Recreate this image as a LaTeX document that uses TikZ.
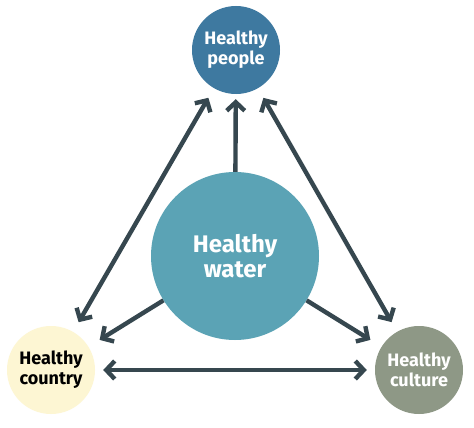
\documentclass[tikz,border=0pt]{standalone}
\usepackage{fontspec}
\setmainfont{Fira Sans}
\usetikzlibrary{arrows.meta}
\definecolor{cpeople}{HTML}{3E79A0}
\definecolor{cwater}{HTML}{5BA3B5}
\definecolor{ccountry}{HTML}{FDF6D3}
\definecolor{cculture}{HTML}{8E9886}
\definecolor{carrow}{HTML}{36474F}
\tikzset{
  circ/.style={circle, inner sep=0pt, align=center, font=\bfseries\fontsize{18}{20}\selectfont},
  conn/.style={draw=carrow, line width=4.4pt, arrows={-Straight Barb[length=8.5pt,width=18pt]}},
  twoway/.style={conn, arrows={Straight Barb[length=8.5pt,width=18pt]-Straight Barb[length=8.5pt,width=18pt]}}
}
\begin{document}
\begin{tikzpicture}[x=1pt,y=-1pt]
\useasboundingbox (0,0) rectangle (474,428);
\fill[white] (0,0) rectangle (474,428);
\node[circ, fill=cpeople, text=white, minimum size=88pt] (people) at (236,50) {Healthy\\people};
\node[circ, fill=cwater, text=white, minimum size=168pt, font=\bfseries\fontsize{24}{25}\selectfont] (water) at (235,256) {Healthy\\water};
\node[circ, fill=ccountry, text=black, minimum size=88pt] (country) at (51,370) {Healthy\\country};
\node[circ, fill=cculture, text=white, minimum size=88pt] (culture) at (419,370) {Healthy\\culture};
\draw[conn, shorten >=5pt] (water) -- (people);
\draw[conn, shorten >=13pt] (water) -- (country);
\draw[conn, shorten >=13pt] (water) -- (culture);
\draw[twoway, shorten >=11pt, shorten <=11pt] (people) -- (country);
\draw[twoway, shorten >=11pt, shorten <=11pt] (people) -- (culture);
\draw[twoway, shorten >=8pt, shorten <=8pt] (country) -- (culture);
\end{tikzpicture}
\end{document}
